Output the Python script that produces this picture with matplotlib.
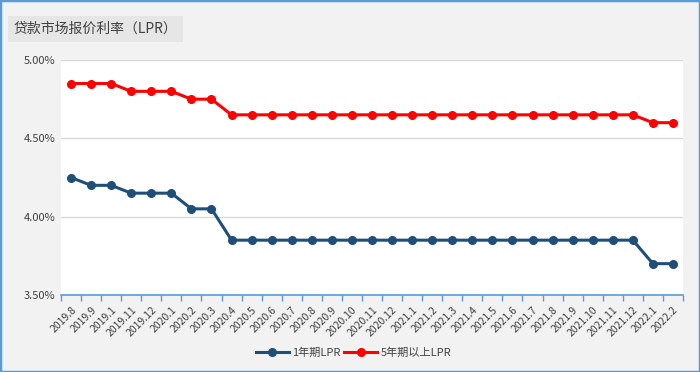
import matplotlib.pyplot as plt
from matplotlib.patches import Rectangle
import numpy as np

plt.rcParams['font.family'] = ['Noto Sans CJK SC', 'DejaVu Sans']

months = ['2019.8', '2019.9', '2019.1', '2019.11', '2019.12',
          '2020.1', '2020.2', '2020.3', '2020.4', '2020.5', '2020.6', '2020.7',
          '2020.8', '2020.9', '2020.10', '2020.11', '2020.12',
          '2021.1', '2021.2', '2021.3', '2021.4', '2021.5', '2021.6', '2021.7',
          '2021.8', '2021.9', '2021.10', '2021.11', '2021.12',
          '2022.1', '2022.2']
lpr_1y = [4.25, 4.20, 4.20, 4.15, 4.15, 4.15, 4.05, 4.05, 3.85, 3.85, 3.85, 3.85,
          3.85, 3.85, 3.85, 3.85, 3.85, 3.85, 3.85, 3.85, 3.85, 3.85, 3.85, 3.85,
          3.85, 3.85, 3.85, 3.85, 3.85, 3.70, 3.70]
lpr_5y = [4.85, 4.85, 4.85, 4.80, 4.80, 4.80, 4.75, 4.75, 4.65, 4.65, 4.65, 4.65,
          4.65, 4.65, 4.65, 4.65, 4.65, 4.65, 4.65, 4.65, 4.65, 4.65, 4.65, 4.65,
          4.65, 4.65, 4.65, 4.65, 4.65, 4.60, 4.60]

bg = '#f2f2f2'
axis_blue = '#5b9bd5'
fig = plt.figure(figsize=[7, 3.72], dpi=100, facecolor=bg)
ax = fig.add_axes([61/700, 1-295/372, 622/700, 235/372])
ax.set_facecolor('white')

x = np.arange(len(months))
ax.plot(x, lpr_1y, color='#1f4e79', lw=2.2, marker='o', ms=5.5, label='1年期LPR', zorder=3)
ax.plot(x, lpr_5y, color='#ff0000', lw=2.2, marker='o', ms=5.5, label='5年期以上LPR', zorder=3)

ax.set_xlim(-0.5, len(months)-0.5)
ax.set_ylim(3.5, 5.0)
ax.set_yticks([3.5, 4.0, 4.5, 5.0])
ax.set_yticklabels(['%.2f%%' % v for v in [3.5, 4.0, 4.5, 5.0]], fontsize=8, color='#404040')
ax.tick_params(axis='y', length=0, pad=4)
ax.grid(axis='y', color='#d9d9d9', lw=1)
ax.set_axisbelow(True)

ax.set_xticks(x)
ax.set_xticklabels(months, rotation=45, ha='right', rotation_mode='anchor', fontsize=7.5, color='#404040')
ax.tick_params(axis='x', which='major', length=0, pad=7)
ax.set_xticks(np.arange(-0.5, len(months), 1), minor=True)
ax.tick_params(axis='x', which='minor', length=4, color=axis_blue, width=1)

for s in ['left', 'right', 'top']:
    ax.spines[s].set_visible(False)
ax.spines['bottom'].set_color(axis_blue)
ax.spines['bottom'].set_linewidth(1.2)

fig.text(14/700, 1-29/372, '贷款市场报价利率（LPR）', fontsize=10, fontstyle='italic',
         color='#404040', va='center', ha='left',
         bbox=dict(facecolor='#e6e6e6', edgecolor='none', pad=4))

fig.legend(loc='center', bbox_to_anchor=(0.505, 1-353/372), ncol=2, frameon=False,
           fontsize=8, handlelength=3, columnspacing=0.3, handletextpad=0.3,
           labelcolor='#404040')

fig.patches.append(Rectangle((0, 0), 1, 1, transform=fig.transFigure, fill=False,
                             edgecolor=axis_blue, lw=2.5))

fig.savefig('out.png', dpi=100, facecolor=bg)
